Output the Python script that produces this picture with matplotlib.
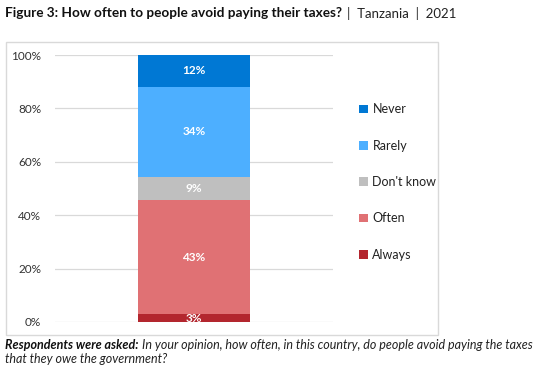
import matplotlib
matplotlib.use("Agg")
import matplotlib.pyplot as plt
from matplotlib.patches import Rectangle, Patch

plt.rcParams['font.family'] = ['Lato', 'DejaVu Sans']

categories = ["Always", "Often", "Don't know", "Rarely", "Never"]
values = [3, 43, 9, 34, 12]
colors = ["#B3262E", "#E07174", "#BFBFBF", "#4DAFFF", "#0078D4"]
yticks = [0, 20, 40, 60, 80, 100]
ytick_labels = ["0%", "20%", "40%", "60%", "80%", "100%"]

W, H = 547, 368
fig = plt.figure(figsize=(W / 100, H / 100), dpi=100)

# outer frame
fig.patches.append(Rectangle((6 / W, 1 - 335 / H), (438 - 6) / W, (335 - 42) / H,
                             transform=fig.transFigure, fill=False,
                             edgecolor="#D9D9D9", linewidth=1.0))

ax = fig.add_axes([55 / W, 1 - 322 / H, (333 - 55) / W, (322 - 55) / H])
total = sum(values)
bottom = 0
handles = []
for cat, v, c in zip(categories, values, colors):
    h = v / total * 100
    ax.bar(0, h, width=0.403, bottom=bottom, color=c, zorder=3)
    ax.text(0, bottom + h / 2, f"{v}%", ha="center", va="center",
            color="white", fontsize=8.5, fontweight="bold", zorder=4)
    handles.append(Patch(facecolor=c, label=cat))
    bottom += h

ax.set_xlim(-0.5, 0.5)
ax.set_ylim(0, 100)
ax.set_yticks(yticks)
ax.set_yticklabels(ytick_labels, fontsize=8.5, color="#333333")
ax.set_xticks([])
ax.tick_params(axis="y", length=0, pad=10)
for s in ax.spines.values():
    s.set_visible(False)
ax.grid(axis="y", color="#D9D9D9", linewidth=0.9, zorder=0)
ax.set_axisbelow(True)

leg = fig.legend(handles=handles[::-1], loc="upper left",
                 bbox_to_anchor=(348 / W, 1 - 92 / H), frameon=False,
                 fontsize=9, handlelength=0.7, handleheight=0.7,
                 handletextpad=0.35, labelspacing=1.95, labelcolor="#222222")

fig.canvas.draw()
r = fig.canvas.get_renderer()

t = fig.text(5 / W, 1 - 13 / H, "Figure 3: How often to people avoid paying their taxes?",
             fontsize=9.8, fontweight="bold", va="center", ha="left", color="#111111")
bb = t.get_window_extent(r)
fig.text((bb.x1 + 5) / W, 1 - 13 / H, "|  Tanzania  |  2021", fontsize=9.5,
         va="center", ha="left", color="#222222")

t1 = fig.text(5 / W, 1 - 345 / H, "Respondents were asked:", fontsize=9,
              fontweight="bold", style="italic", va="center", ha="left", color="#111111")
bb1 = t1.get_window_extent(r)
fig.text((bb1.x1 + 3) / W, 1 - 345 / H,
         "In your opinion, how often, in this country, do people avoid paying the taxes",
         fontsize=9, style="italic", va="center", ha="left", color="#222222")
fig.text(5 / W, 1 - 359 / H, "that they owe the government?",
         fontsize=9, style="italic", va="center", ha="left", color="#222222")

fig.savefig("out.png", dpi=100)
